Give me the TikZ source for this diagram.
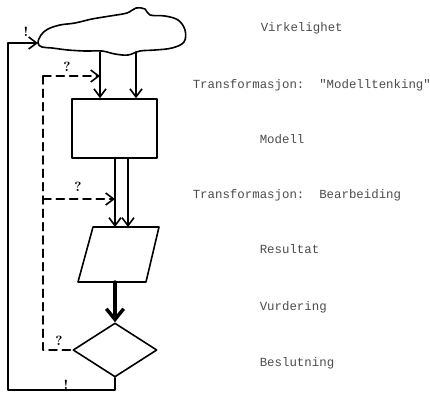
\documentclass[tikz,border=0pt]{standalone}
\usepackage{fontspec}
\setmonofont{Liberation Mono}
\usetikzlibrary{arrows.meta,shapes.geometric}
\begin{document}
\begin{tikzpicture}[x=0.75pt,y=-0.75pt,line join=round,line cap=round,>={Straight Barb[length=6pt,width=9pt]},line width=1.2pt]
\tikzset{guess/.style={dash pattern=on 6pt off 4pt},
  sign/.style={font=\bfseries,inner sep=0pt},
  phase/.style={anchor=base west,inner sep=0pt,text=black!70,font=\ttfamily\fontsize{9.3}{11}\selectfont}}
\useasboundingbox (0,0) rectangle (430,394);
% virkelighet
\draw plot[smooth cycle,tension=0.6] coordinates {(38,43) (41,35) (48,29) (60,25) (75,23) (92,19) (110,16) (127,13) (136,8) (145,9) (150,15) (165,16) (178,20) (185,30) (184,42) (172,48) (155,50) (140,51) (128,55) (115,54) (102,51) (85,51) (68,50) (52,48) (42,47)};
\coordinate (cloud) at (38,43);
\coordinate (c1) at (100,52);
\coordinate (c2) at (136,52);
\node[draw,inner sep=0pt,minimum width=63.75pt,minimum height=44.25pt] (modell) at (114.5,128.5) {};
\foreach \c in {c1,c2}
{
	\draw[->] (\c) -- (\c |- modell.north);
}
% resultat
\draw (93,227) -- (159,227) -- (146,282) -- (78,282) -- cycle;
\coordinate (res-n) at (115,227);
\coordinate (res-s) at (115,282);
\foreach \x in {115,128}
{
	\draw[->] (modell.south -| \x,0) -- (res-n -| \x,0);
}
\node[draw,diamond,inner sep=0pt,minimum width=63pt,minimum height=40.5pt] (beslut) at (115,350) {};
\draw[->,line width=2.6pt,>={Straight Barb[length=8pt,width=13pt]}] (res-s) -- (beslut.north);
% tilbakekobling
\coordinate (low) at (8,390);
\coordinate (top) at (8,43);
\draw[->] (beslut.south) -- (beslut.south |- low) -- (low) -- (top) -- (cloud);
\node[sign] (ex1) at (26,32) {!};
\node[sign] (ex2) at (66,385) {!};
\coordinate (d1) at (43,76);
\coordinate (d2) at (43,199);
\draw[guess,->] (d1) -- (c1 |- d1);
\draw[guess] (d1) -- (d1 |- beslut.west) -- (beslut.west);
\draw[guess,->] (d2) -- (res-n |- d2);
\node[sign] (q1) at (67,67) {?};
\node[sign] (q2) at (78,187) {?};
\node[sign] (q3) at (59,341) {?};
% tekst
\node[phase] (virk) at (260,31) {Virkelighet};
\node[phase] (trans1) at (192,88) {Transformasjon:\ \ "Modelltenking"};
\node[phase] (modtxt) at (259,143) {Modell};
\node[phase] (trans2) at (192,198) {Transformasjon:\ \ Bearbeiding};
\node[phase] (restxt) at (259,253) {Resultat};
\node[phase] (vurd) at (259,310) {Vurdering};
\node[phase] (beslutxt) at (259,366) {Beslutning};
\end{tikzpicture}
\end{document}
